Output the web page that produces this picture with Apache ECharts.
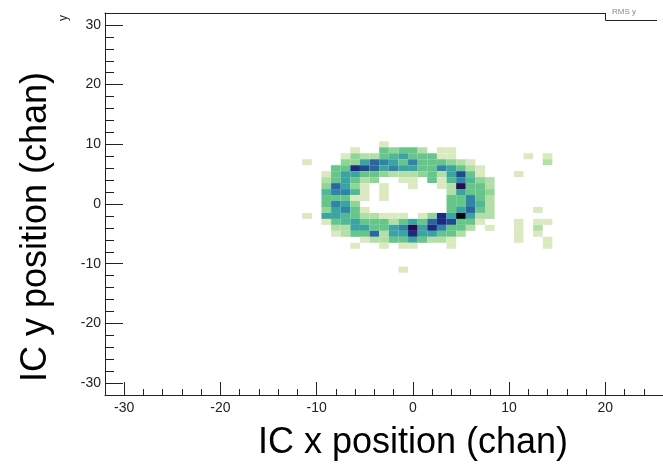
<!DOCTYPE html>
<html><head><meta charset="utf-8">
<script src="https://cdn.jsdelivr.net/npm/echarts@6/dist/echarts.min.js"></script>
<style>html,body{margin:0;padding:0;background:#fff}#c{width:663px;height:466px}</style>
</head><body><div id="c"></div>
<script>
// bin centres
const xBins = [-11,-10,-9,-8,-7,-6,-5,-4,-3,-2,-1,0,1,2,3,4,5,6,7,8,9,10,11,12,13,14];
const yBins = [10,9,8,7,6,5,4,3,2,1,0,-1,-2,-3,-4,-5,-6,-7,-8,-9,-10,-11];
// counts per row (rows follow yBins, columns follow xBins)
const counts = [
  [0,0,0,0,0,0,0,0,1,0,0,0,0,0,0,0,0,0,0,0,0,0,0,0,0,0],
  [0,0,0,0,0,1,0,0,4,3,4,4,2,0,1,1,0,0,0,0,0,0,0,0,0,0],
  [0,0,0,0,1,3,2,2,4,5,6,4,4,4,1,1,0,0,0,0,0,0,0,1,0,1],
  [1,0,0,0,3,3,6,8,7,6,4,7,4,4,4,3,2,1,0,0,0,0,0,0,0,2],
  [0,0,0,4,4,10,9,8,6,7,6,6,4,4,7,6,4,2,1,0,0,0,0,0,0,0],
  [0,0,1,4,6,6,4,4,3,2,2,2,3,4,2,6,9,4,1,0,0,0,1,0,0,0],
  [0,0,2,4,6,4,2,3,0,0,1,1,0,4,1,5,7,5,3,2,0,0,0,0,0,0],
  [0,0,3,8,6,3,1,0,1,0,0,1,0,0,1,2,11,4,4,2,0,0,0,0,0,0],
  [0,0,5,7,7,5,1,0,1,0,0,0,0,0,0,2,6,4,4,3,0,0,0,0,0,0],
  [0,0,4,4,4,1,1,0,1,0,0,0,0,0,0,4,4,7,4,2,0,0,0,0,0,0],
  [0,0,4,7,6,3,0,0,0,0,0,0,0,0,0,4,4,7,5,2,0,0,0,0,0,0],
  [0,0,3,6,7,4,1,0,0,0,0,0,0,0,0,4,6,8,4,2,0,0,0,0,1,0],
  [1,0,6,6,5,4,2,2,1,1,1,0,1,3,10,6,12,6,2,2,0,0,0,0,0,0],
  [0,0,1,4,5,6,4,4,4,2,4,6,4,8,10,9,4,4,1,0,0,0,1,0,1,1],
  [0,0,0,2,2,6,6,4,4,6,7,11,6,10,7,4,4,2,0,1,0,0,1,0,2,0],
  [0,0,0,1,2,4,4,8,2,6,6,10,6,6,4,4,2,0,0,0,0,0,1,0,1,0],
  [0,0,0,0,0,0,1,2,2,4,4,6,4,2,2,1,0,0,0,0,0,0,1,0,0,1],
  [0,0,0,0,0,1,0,0,1,0,1,1,0,0,0,1,0,0,0,0,0,0,0,0,0,1],
  [0,0,0,0,0,0,0,0,0,0,0,0,0,0,0,0,0,0,0,0,0,0,0,0,0,0],
  [0,0,0,0,0,0,0,0,0,0,0,0,0,0,0,0,0,0,0,0,0,0,0,0,0,0],
  [0,0,0,0,0,0,0,0,0,0,0,0,0,0,0,0,0,0,0,0,0,0,0,0,0,0],
  [0,0,0,0,0,0,0,0,0,0,1,0,0,0,0,0,0,0,0,0,0,0,0,0,0,0]
];
const xMajorTicks = [-30,-20,-10,0,10,20];
const xMinorTicks = [-28,-26,-24,-22,-18,-16,-14,-12,-8,-6,-4,-2,2,4,6,8,12,14,16,18,22,24];
const yMajorTicks = [-30,-20,-10,0,10,20,30];
const yMinorTicks = [-28,-26,-24,-22,-18,-16,-14,-12,-8,-6,-4,-2,2,4,6,8,12,14,16,18,22,24,26,28];
const palette = ['#dbe9c1','#b2dfa7','#8ed596','#66c68a','#4fb896','#3ca3a3','#2f85a9','#2b66a0','#1f4a92','#1c2a80','#2a0b52','#050510'];

const cells = [];
yBins.forEach((y, r) => xBins.forEach((x, c) => {
  const v = counts[r][c];
  if (v > 0) cells.push([x, y, v]);
}));

const FONT = 'Liberation Sans, Arial, Helvetica, sans-serif';
const AX = '#222';
const chart = echarts.init(document.getElementById('c'), null, {renderer: 'canvas'});
const baseX = {type: 'value', min: -32, max: 26, splitLine: {show: false}};
const baseY = {type: 'value', min: -32, max: 32, splitLine: {show: false}};
chart.setOption({
  animation: false,
  backgroundColor: '#fff',
  grid: {left: 105, right: 0, top: 13, bottom: 71},
  xAxis: [
    Object.assign({}, baseX, {position: 'bottom',
      axisLine: {show: true, onZero: false, lineStyle: {color: AX, width: 1}},
      axisTick: {show: true, inside: true, length: 13, customValues: xMajorTicks, lineStyle: {color: AX}},
      axisLabel: {show: true, customValues: xMajorTicks, fontSize: 14, margin: 6, color: '#222', fontFamily: FONT}}),
    Object.assign({}, baseX, {position: 'bottom',
      axisLine: {show: false, onZero: false},
      axisTick: {show: true, inside: true, length: 6, customValues: xMinorTicks, lineStyle: {color: AX}},
      axisLabel: {show: false}}),
    Object.assign({}, baseX, {position: 'top',
      axisLine: {show: true, onZero: false, lineStyle: {color: AX, width: 1}},
      axisTick: {show: false}, axisLabel: {show: false}})
  ],
  yAxis: [
    Object.assign({}, baseY, {position: 'left',
      axisLine: {show: true, onZero: false, lineStyle: {color: AX, width: 1}},
      axisTick: {show: true, inside: true, length: 18, customValues: yMajorTicks, lineStyle: {color: AX}},
      axisLabel: {show: true, customValues: yMajorTicks, fontSize: 14, margin: 4, color: '#222', fontFamily: FONT}}),
    Object.assign({}, baseY, {position: 'left',
      axisLine: {show: false, onZero: false},
      axisTick: {show: true, inside: true, length: 9, customValues: yMinorTicks, lineStyle: {color: AX}},
      axisLabel: {show: false}})
  ],
  visualMap: {type: 'continuous', show: false, dimension: 2, min: 1, max: 12, seriesIndex: 0,
    inRange: {color: palette}},
  series: [{
    type: 'custom',
    xAxisIndex: 0, yAxisIndex: 0,
    data: cells,
    renderItem: function (params, api) {
      const x = api.value(0), y = api.value(1);
      const p0 = api.coord([x - 0.5, y + 0.5]);
      const p1 = api.coord([x + 0.5, y - 0.5]);
      return {type: 'rect',
        shape: {x: p0[0], y: p0[1], width: p1[0] - p0[0], height: p1[1] - p0[1]},
        style: {fill: api.visual('color')}};
    }
  }],
  graphic: [
    {type: 'rect', z: 100, shape: {x: 605.5, y: 0, width: 60, height: 20},
      style: {fill: '#fff', stroke: null}},
    {type: 'polyline', z: 101, shape: {points: [[605.5, 13], [605.5, 20.5], [657, 20.5]]},
      style: {stroke: '#222', lineWidth: 1, fill: null}},
    {type: 'text', z: 101, x: 612, y: 8, style: {text: 'RMS y', fontSize: 8, fill: '#888', fontFamily: FONT}},
    {type: 'text', z: 101, x: 413, y: 443, style: {text: 'IC x position (chan)', fontSize: 36, fill: '#000',
      fontFamily: FONT, align: 'center', verticalAlign: 'middle'}},
    {type: 'text', z: 101, x: 36, y: 227, rotation: Math.PI / 2, style: {text: 'IC y position (chan)', fontSize: 36, fill: '#000',
      fontFamily: FONT, align: 'center', verticalAlign: 'middle'}},
    {type: 'text', z: 101, x: 64, y: 18, rotation: Math.PI / 2, style: {text: 'y', fontSize: 12, fill: '#222',
      fontFamily: FONT, align: 'center', verticalAlign: 'middle'}}
  ]
});
</script>
</body></html>
